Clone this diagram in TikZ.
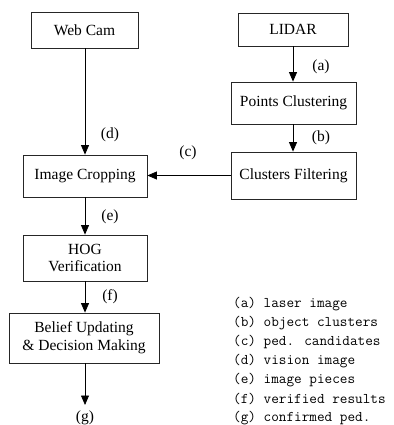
\documentclass[tikz,border=0pt]{standalone}
\usepackage{fontspec}
\setmainfont{Liberation Serif}
\usetikzlibrary{arrows.meta}
\begin{document}
\begin{tikzpicture}[x=1pt,y=-1pt,
  box/.style={draw=black!85,line width=0.8pt,inner sep=0pt,align=center,font=\fontsize{15.5}{18}\selectfont},
  conn/.style={line width=0.8pt,-{Triangle[width=8pt,length=9.5pt]}},
  lab/.style={font=\fontsize{15.5}{18}\selectfont},
  leg/.style={anchor=west,inner sep=0pt,font=\ttfamily\fontsize{14.8}{16}\selectfont}]
\useasboundingbox (0,0) rectangle (393,425);
\node[box,minimum width=107pt,minimum height=36pt] (wc) at (84.5,30) {Web Cam};
\node[box,minimum width=110pt,minimum height=33pt] (li) at (293,29.5) {LIDAR};
\node[box,minimum width=125pt,minimum height=42pt] (pc) at (293.5,103) {Points Clustering};
\node[box,minimum width=125pt,minimum height=47pt] (cf) at (293.5,175.5) {Clusters Filtering};
\node[box,minimum width=124pt,minimum height=42pt] (ic) at (85,176) {Image Cropping};
\node[box,minimum width=124pt,minimum height=46pt] (hog) at (85,258) {HOG\\[-1pt]Verification};
\node[box,minimum width=150pt,minimum height=50pt] (bu) at (84,338) {Belief Updating\\[0pt]\& Decision Making};
\coordinate (gend) at (85,405);
\draw[conn] (wc.south -| ic.north) -- (ic.north);
\draw[conn] (li.south) -- (li.south |- pc.north);
\draw[conn] (pc.south -| li.south) -- (li.south |- cf.north);
\draw[conn] (cf.west) -- (cf.west -| ic.east);
\draw[conn] (ic.south) -- (ic.south |- hog.north);
\draw[conn] (hog.south) -- (hog.south |- bu.north);
\draw[conn] (bu.south -| ic.south) -- (gend);
\node[lab] (la) at (321,67) {(a)};
\node[lab] (lb) at (321,138) {(b)};
\node[lab] (lc) at (188,153) {(c)};
\node[lab] (ld) at (110,135) {(d)};
\node[lab] (le) at (110,217) {(e)};
\node[lab] (lf) at (110,297) {(f)};
\node[lab] (lg) at (85,418) {(g)};
\node[leg] (k1) at (233,304) {(a) laser image};
\node[leg] (k2) at (233,323) {(b) object clusters};
\node[leg] (k3) at (233,342) {(c) ped. candidates};
\node[leg] (k4) at (233,361) {(d) vision image};
\node[leg] (k5) at (233,380) {(e) image pieces};
\node[leg] (k6) at (233,399) {(f) verified results};
\node[leg] (k7) at (233,418) {(g) confirmed ped.};
\end{tikzpicture}
\end{document}
